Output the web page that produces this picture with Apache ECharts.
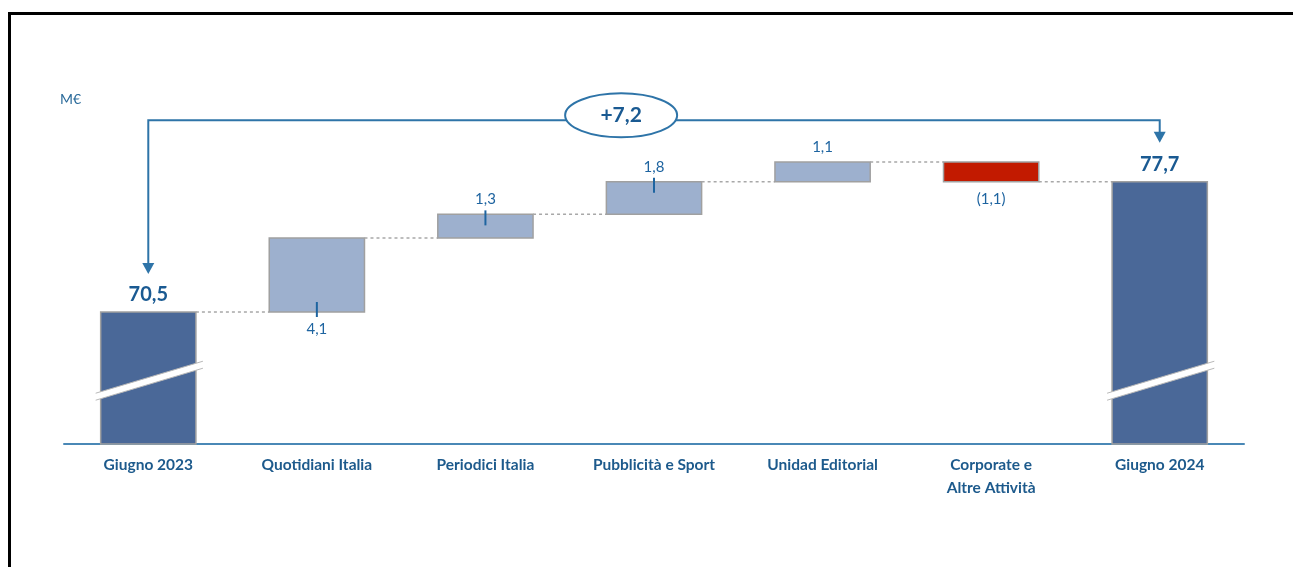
<!DOCTYPE html>
<html>
<head>
<meta charset="utf-8">
<script src="https://cdn.jsdelivr.net/npm/echarts@6/dist/echarts.min.js"></script>
<style>
  html, body { margin: 0; padding: 0; background: #fff; }
  #frame { position: absolute; left: 8px; top: 12px; width: 1400px; height: 700px;
           border-top: 3px solid #000; border-left: 3px solid #000; box-sizing: border-box; }
  #chart { position: absolute; left: 0; top: 0; width: 1293px; height: 567px; }
</style>
</head>
<body>
<div id="frame"></div>
<div id="chart"></div>
<script>
// ---- data ----
const categories = ['Giugno 2023', 'Quotidiani Italia', 'Periodici Italia', 'Pubblicità e Sport', 'Unidad Editorial', 'Corporate e\nAltre Attività', 'Giugno 2024'];
const deltas = [70.5, 4.1, 1.3, 1.8, 1.1, -1.1, 77.7];
const kinds = ['total', 'up', 'up', 'up', 'up', 'down', 'total'];
const valueLabels = ['70,5', '4,1', '1,3', '1,8', '1,1', '(1,1)', '77,7'];
const labelSide = ['top', 'bottom', 'top', 'top', 'top', 'bottom', 'top'];
const tickMark = [0, 1, 1, 1, 0, 0, 0];
const totalChangeLabel = '+7,2';
const unitLabel = 'M€';

// ---- axis range (broken axis) ----
const axisMin = 63.2, axisMax = 83;
const BREAK_VALUE = 66.7;
const BRACKET_VALUE = 81.1;

// ---- build waterfall rows ----
const rows = [];
let running = 0;
deltas.forEach((d, i) => {
  let lo, hi;
  if (kinds[i] === 'total') { lo = axisMin; hi = d; running = d; }
  else { lo = running; hi = running + d; running = hi; }
  rows.push([i, lo, hi]);
});

const COL = { total: '#4A6898', up: '#9DB0CE', down: '#C21A00' };
const TXT = '#1E64A0';
const DARK_TXT = '#1A5A92';
const LINE = '#2E74A8';

function renderBar(params, api) {
  const i = api.value(0);
  const lo = api.value(1), hi = api.value(2);
  const kind = kinds[i];
  const top = api.coord([i, Math.max(lo, hi)]);
  const bot = api.coord([i, Math.min(lo, hi)]);
  const band = api.size([1, 0])[0];
  const w = band * 0.565;
  const x = top[0] - w / 2;
  const children = [];
  children.push({
    type: 'rect',
    shape: { x: x, y: top[1], width: w, height: bot[1] - top[1] },
    style: { fill: COL[kind], stroke: '#A0A0A0', lineWidth: 1.5 }
  });
  if (kind === 'total') {
    const yc = api.coord([i, BREAK_VALUE])[1];
    const xl = x - 5, xr = x + w + 7;
    const yl = yc + 16, yr = yc - 16;
    children.push({
      type: 'polygon',
      shape: { points: [[xl, yl - 3.5], [xr, yr - 3.5], [xr, yr + 3.5], [xl, yl + 3.5]] },
      style: { fill: '#fff' }
    });
    children.push({ type: 'line', shape: { x1: xl, y1: yl - 3.5, x2: xr, y2: yr - 3.5 }, style: { stroke: '#B8B8B8', lineWidth: 1 } });
    children.push({ type: 'line', shape: { x1: xl, y1: yl + 3.5, x2: xr, y2: yr + 3.5 }, style: { stroke: '#B8B8B8', lineWidth: 1 } });
  }
  // tick marks
  if (tickMark[i]) {
    const edgeY = labelSide[i] === 'top' ? top[1] : bot[1];
    const y1 = labelSide[i] === 'top' ? edgeY - 4 : edgeY - 10;
    const y2 = labelSide[i] === 'top' ? edgeY + 11 : edgeY + 5;
    children.push({ type: 'line', shape: { x1: top[0], y1: y1, x2: top[0], y2: y2 }, style: { stroke: '#1E64A0', lineWidth: 2 } });
  }
  // label
  const isTotal = kind === 'total';
  const ly = labelSide[i] === 'top' ? top[1] - (isTotal ? 17 : 15) : bot[1] + 17;
  children.push({
    type: 'text',
    style: {
      x: top[0], y: ly, text: valueLabels[i], align: 'center', verticalAlign: 'middle',
      fill: isTotal ? DARK_TXT : TXT,
      font: isTotal ? 'bold 20px Lato' : '15px Lato'
    }
  });
  // connector
  if (i < deltas.length - 1) {
    const lvl = api.coord([i, hi])[1];
    children.push({
      type: 'line',
      shape: { x1: x + w, y1: lvl, x2: x + band, y2: lvl },
      style: { stroke: '#A8A8A8', lineWidth: 1.5, lineDash: [3, 3] }
    });
  }
  return { type: 'group', children: children };
}

function renderBracket(params, api) {
  const a = api.value(0), b = api.value(1);
  const pa = api.coord([a, deltas[a]]);
  const pb = api.coord([b, deltas[b]]);
  const yb = api.coord([a, BRACKET_VALUE])[1];
  const band = api.size([1, 0])[0];
  const tipA = pa[1] - 38, tipB = pb[1] - 39;
  const ex = api.coord([2, BRACKET_VALUE])[0] + band * 0.805;
  const children = [
    { type: 'polyline', shape: { points: [[pa[0], tipA - 9], [pa[0], yb], [pb[0], yb], [pb[0], tipB - 9]] },
      style: { stroke: LINE, lineWidth: 2, fill: null } },
    { type: 'polygon', shape: { points: [[pa[0] - 6, tipA - 11], [pa[0] + 6, tipA - 11], [pa[0], tipA]] }, style: { fill: LINE } },
    { type: 'polygon', shape: { points: [[pb[0] - 6, tipB - 11], [pb[0] + 6, tipB - 11], [pb[0], tipB]] }, style: { fill: LINE } },
    { type: 'ellipse', shape: { cx: ex, cy: yb - 5, rx: 56, ry: 22 }, style: { fill: '#fff', stroke: LINE, lineWidth: 2 } },
    { type: 'text', style: { x: ex, y: yb - 5, text: totalChangeLabel, align: 'center', verticalAlign: 'middle', fill: DARK_TXT, font: 'bold 21px Lato' } }
  ];
  return { type: 'group', children: children };
}

const chart = echarts.init(document.getElementById('chart'), null, { renderer: 'canvas' });
chart.setOption({
  animation: false,
  backgroundColor: 'transparent',
  grid: { left: 64, right: 49, top: 86, bottom: 123, containLabel: false },
  xAxis: {
    type: 'category', data: categories, boundaryGap: true,
    axisTick: { show: false },
    axisLine: { lineStyle: { color: '#4A88B6', width: 2 } },
    axisLabel: { interval: 0, margin: 9, fontFamily: 'Lato', fontWeight: 'bold', fontSize: 15.5, color: '#1D5A8C', lineHeight: 23 }
  },
  yAxis: { type: 'value', min: axisMin, max: axisMax, show: false, splitLine: { show: false } },
  graphic: [
    { type: 'text', left: 60, top: 92, style: { text: unitLabel, font: '14px Lato', fill: '#2A6A9A' } }
  ],
  series: [
    { type: 'custom', renderItem: renderBar, data: rows, encode: { x: 0, y: [1, 2] }, clip: false, z: 2 },
    { type: 'custom', renderItem: renderBracket, data: [[0, 6]], encode: { x: 0 }, clip: false, z: 3 }
  ]
});
</script>
</body>
</html>
